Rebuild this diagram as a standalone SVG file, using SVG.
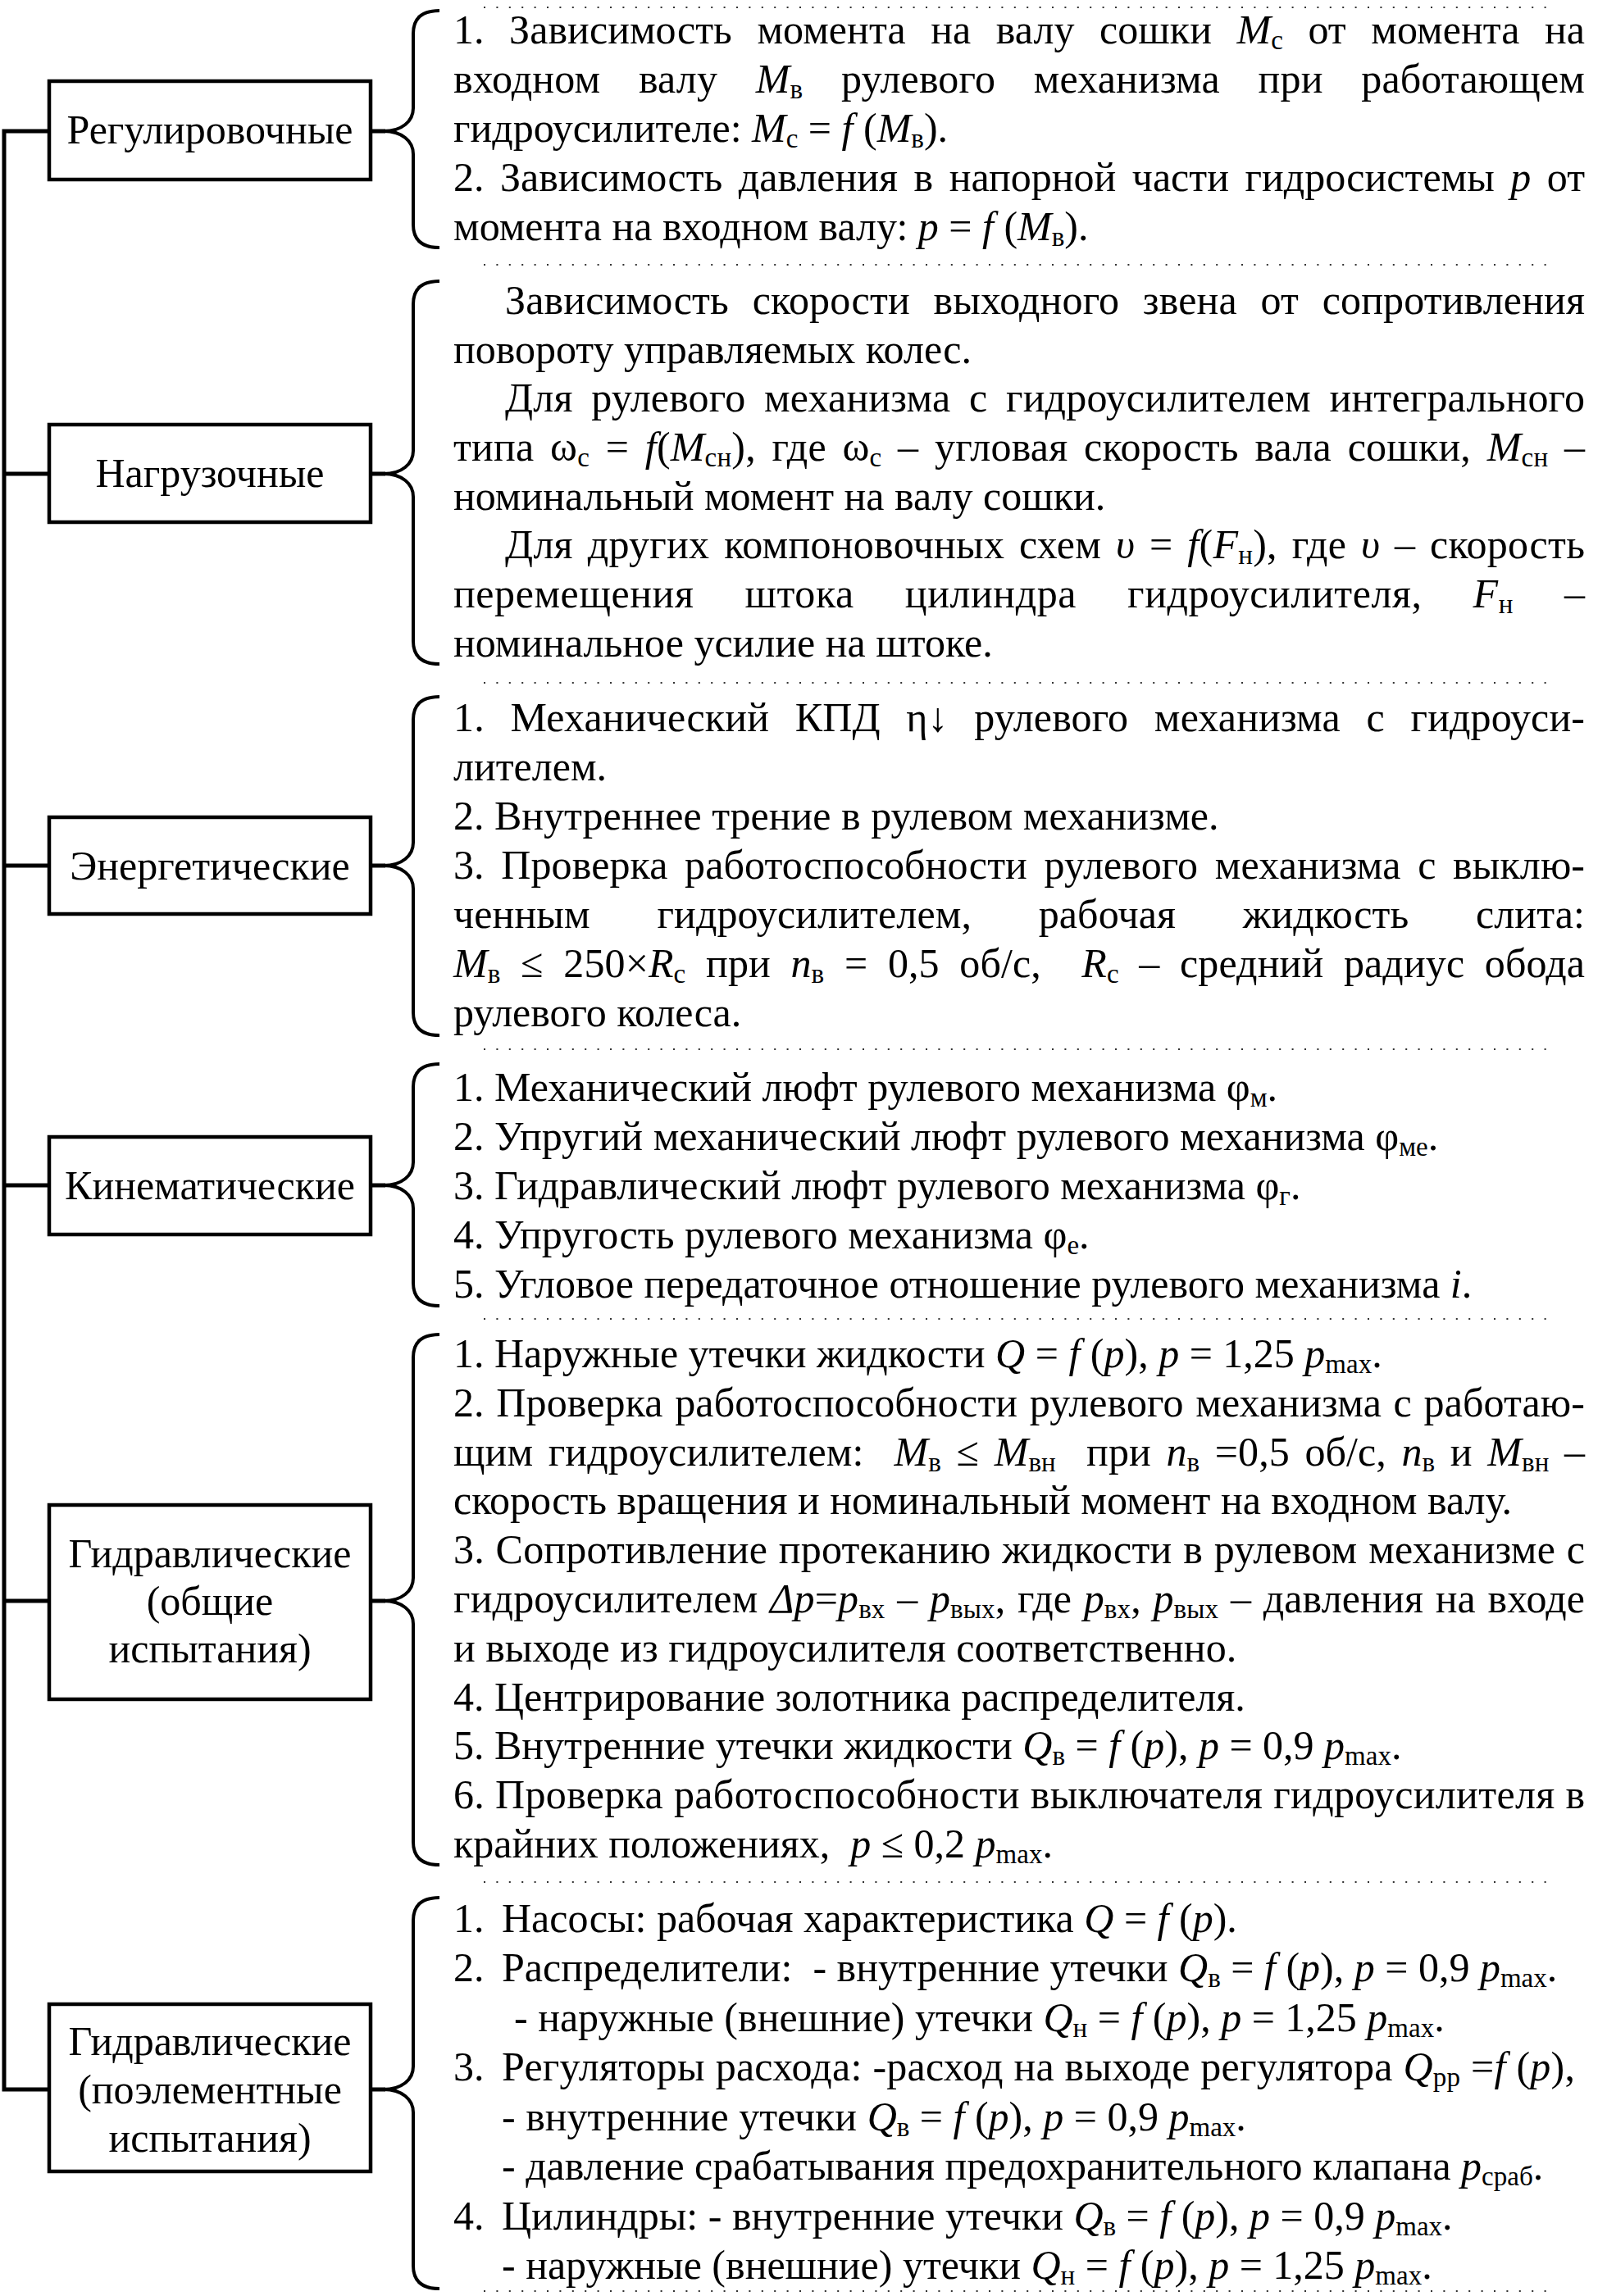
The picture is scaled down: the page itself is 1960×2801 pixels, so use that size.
<svg xmlns="http://www.w3.org/2000/svg" width="1960" height="2801" viewBox="0 0 1960 2801">
<style>
.t{font-family:"Liberation Serif","Times New Roman",serif;font-size:50px;fill:#000}
.lbl{text-anchor:middle}
.i{font-style:italic}
.s{font-size:33px;baseline-shift:-7px}
.box{fill:#fff;stroke:#000;stroke-width:4.5}
.ln{fill:none;stroke:#000;stroke-width:5}
.br{fill:none;stroke:#000;stroke-width:4}
.dot{fill:none;stroke:#333;stroke-width:2;stroke-dasharray:2 13.4}
</style>
<rect width="1960" height="2801" fill="#fff"/>
<g id="connectors">
<path class="ln" d="M60 160H5V2549H60M5 578H60M5 1056H60M5 1446H60M5 1953H60"/>
<path class="ln" d="M452 160H470M452 578H470M452 1056H470M452 1446H470M452 1953H470M452 2549H470"/>
<path class="br" d="M536 13C516 13 504 21 504 41L504 132C504 148 490 160 468 160C490 160 504 172 504 188L504 274C504 294 516 302 536 302"/>
<path class="br" d="M536 343C516 343 504 351 504 371L504 550C504 566 490 578 468 578C490 578 504 590 504 606L504 782C504 802 516 810 536 810"/>
<path class="br" d="M536 850C516 850 504 858 504 878L504 1028C504 1044 490 1056 468 1056C490 1056 504 1068 504 1084L504 1235C504 1255 516 1263 536 1263"/>
<path class="br" d="M536 1298C516 1298 504 1306 504 1326L504 1418C504 1434 490 1446 468 1446C490 1446 504 1458 504 1474L504 1565C504 1585 516 1593 536 1593"/>
<path class="br" d="M536 1628C516 1628 504 1636 504 1656L504 1925C504 1941 490 1953 468 1953C490 1953 504 1965 504 1981L504 2247C504 2267 516 2275 536 2275"/>
<path class="br" d="M536 2315C516 2315 504 2323 504 2343L504 2521C504 2537 490 2549 468 2549C490 2549 504 2561 504 2577L504 2764C504 2784 516 2792 536 2792"/>
</g>
<g id="separators">
<path class="dot" d="M590 9H1886M590 323H1886M590 833H1886M590 1280H1886M590 1609H1886M590 2296H1886M590 2795H1886"/>
</g>
<g id="node-regulating">
<rect class="box" x="60" y="99" width="392" height="120"/>
<text class="t lbl" x="256" y="175">Регулировочные</text>
<text class="t" x="553" y="53" textLength="1380" lengthAdjust="spacing" style="word-spacing:18px" xml:space="preserve">1. Зависимость момента на валу сошки <tspan class="i">M</tspan><tspan class="s">с</tspan> от момента на</text>
<text class="t" x="553" y="113" textLength="1380" lengthAdjust="spacing" style="word-spacing:34px" xml:space="preserve">входном валу <tspan class="i">M</tspan><tspan class="s">в</tspan> рулевого механизма при работающем</text>
<text class="t" x="553" y="173" xml:space="preserve">гидроусилителе: <tspan class="i">M</tspan><tspan class="s">с</tspan> = <tspan class="i">f</tspan> (<tspan class="i">M</tspan><tspan class="s">в</tspan>).</text>
<text class="t" x="553" y="233" textLength="1380" lengthAdjust="spacing" style="word-spacing:7px" xml:space="preserve">2. Зависимость давления в напорной части гидросистемы <tspan class="i">p</tspan> от</text>
<text class="t" x="553" y="293" xml:space="preserve">момента на входном валу: <tspan class="i">p</tspan> = <tspan class="i">f</tspan> (<tspan class="i">M</tspan><tspan class="s">в</tspan>).</text>
</g>
<g id="node-load">
<rect class="box" x="60" y="518" width="392" height="119"/>
<text class="t lbl" x="256" y="594">Нагрузочные</text>
<text class="t" x="616" y="383" textLength="1317" lengthAdjust="spacing" style="word-spacing:16px" xml:space="preserve">Зависимость скорости выходного звена от сопротивления</text>
<text class="t" x="553" y="443" xml:space="preserve">повороту управляемых колес.</text>
<text class="t" x="616" y="502" textLength="1317" lengthAdjust="spacing" style="word-spacing:10px" xml:space="preserve">Для рулевого механизма с гидроусилителем интегрального</text>
<text class="t" x="553" y="562" textLength="1380" lengthAdjust="spacing" style="word-spacing:7px" xml:space="preserve">типа ω<tspan class="s">с</tspan> = <tspan class="i">f</tspan>(<tspan class="i">M</tspan><tspan class="s">сн</tspan>), где ω<tspan class="s">с</tspan> – угловая скорость вала сошки, <tspan class="i">M</tspan><tspan class="s">сн</tspan> –</text>
<text class="t" x="553" y="622" xml:space="preserve">номинальный момент на валу сошки.</text>
<text class="t" x="616" y="681" textLength="1317" lengthAdjust="spacing" style="word-spacing:5px" xml:space="preserve">Для других компоновочных схем <tspan class="i">υ</tspan> = <tspan class="i">f</tspan>(<tspan class="i">F</tspan><tspan class="s">н</tspan>), где <tspan class="i">υ</tspan> – скорость</text>
<text class="t" x="553" y="741" textLength="1380" lengthAdjust="spacing" style="word-spacing:49px" xml:space="preserve">перемещения штока цилиндра гидроусилителя, <tspan class="i">F</tspan><tspan class="s">н</tspan> –</text>
<text class="t" x="553" y="801" xml:space="preserve">номинальное усилие на штоке.</text>
</g>
<g id="node-energy">
<rect class="box" x="60" y="997" width="392" height="118"/>
<text class="t lbl" x="256" y="1073">Энергетические</text>
<text class="t" x="553" y="892" textLength="1380" lengthAdjust="spacing" style="word-spacing:19px" xml:space="preserve">1. Механический КПД η↓ рулевого механизма с гидроуси-</text>
<text class="t" x="553" y="952" xml:space="preserve">лителем.</text>
<text class="t" x="553" y="1012" xml:space="preserve">2. Внутреннее трение в рулевом механизме.</text>
<text class="t" x="553" y="1072" textLength="1380" lengthAdjust="spacing" style="word-spacing:8px" xml:space="preserve">3. Проверка работоспособности рулевого механизма с выклю-</text>
<text class="t" x="553" y="1132" textLength="1380" lengthAdjust="spacing" style="word-spacing:69px" xml:space="preserve">ченным гидроусилителем, рабочая жидкость слита:</text>
<text class="t" x="553" y="1192" textLength="1380" lengthAdjust="spacing" style="word-spacing:12px" xml:space="preserve"><tspan class="i">M</tspan><tspan class="s">в</tspan> ≤ 250×<tspan class="i">R</tspan><tspan class="s">с</tspan> при <tspan class="i">n</tspan><tspan class="s">в</tspan> = 0,5 об/с,  <tspan class="i">R</tspan><tspan class="s">с</tspan> – средний радиус обода</text>
<text class="t" x="553" y="1252" xml:space="preserve">рулевого колеса.</text>
</g>
<g id="node-kinematic">
<rect class="box" x="60" y="1387" width="392" height="119"/>
<text class="t lbl" x="256" y="1463">Кинематические</text>
<text class="t" x="553" y="1343" xml:space="preserve">1. Механический люфт рулевого механизма φ<tspan class="s">м</tspan>.</text>
<text class="t" x="553" y="1403" xml:space="preserve">2. Упругий механический люфт рулевого механизма φ<tspan class="s">ме</tspan>.</text>
<text class="t" x="553" y="1463" xml:space="preserve">3. Гидравлический люфт рулевого механизма φ<tspan class="s">г</tspan>.</text>
<text class="t" x="553" y="1523" xml:space="preserve">4. Упругость рулевого механизма φ<tspan class="s">е</tspan>.</text>
<text class="t" x="553" y="1583" xml:space="preserve">5. Угловое передаточное отношение рулевого механизма <tspan class="i">i</tspan>.</text>
</g>
<g id="node-hydraulic-general">
<rect class="box" x="60" y="1836" width="392" height="237"/>
<text class="t lbl" x="256" y="1912">Гидравлические</text>
<text class="t lbl" x="256" y="1970">(общие</text>
<text class="t lbl" x="256" y="2028">испытания)</text>
<text class="t" x="553" y="1668" xml:space="preserve">1. Наружные утечки жидкости <tspan class="i">Q</tspan> = <tspan class="i">f</tspan> (<tspan class="i">p</tspan>), <tspan class="i">p</tspan> = 1,25 <tspan class="i">p</tspan><tspan class="s">max</tspan>.</text>
<text class="t" x="553" y="1728" textLength="1380" lengthAdjust="spacing" style="word-spacing:2px" xml:space="preserve">2. Проверка работоспособности рулевого механизма с работаю-</text>
<text class="t" x="553" y="1788" textLength="1380" lengthAdjust="spacing" style="word-spacing:6px" xml:space="preserve">щим гидроусилителем:  <tspan class="i">M</tspan><tspan class="s">в</tspan> ≤ <tspan class="i">M</tspan><tspan class="s">вн</tspan>  при <tspan class="i">n</tspan><tspan class="s">в</tspan> =0,5 об/с, <tspan class="i">n</tspan><tspan class="s">в</tspan> и <tspan class="i">M</tspan><tspan class="s">вн</tspan> –</text>
<text class="t" x="553" y="1847" xml:space="preserve">скорость вращения и номинальный момент на входном валу.</text>
<text class="t" x="553" y="1907" textLength="1380" lengthAdjust="spacing" style="word-spacing:1px" xml:space="preserve">3. Сопротивление протеканию жидкости в рулевом механизме с</text>
<text class="t" x="553" y="1967" textLength="1380" lengthAdjust="spacing" style="word-spacing:2px" xml:space="preserve">гидроусилителем <tspan class="i">Δp</tspan>=<tspan class="i">p</tspan><tspan class="s">вх</tspan> – <tspan class="i">p</tspan><tspan class="s">вых</tspan>, где <tspan class="i">p</tspan><tspan class="s">вх</tspan>, <tspan class="i">p</tspan><tspan class="s">вых</tspan> – давления на входе</text>
<text class="t" x="553" y="2027" xml:space="preserve">и выходе из гидроусилителя соответственно.</text>
<text class="t" x="553" y="2087" xml:space="preserve">4. Центрирование золотника распределителя.</text>
<text class="t" x="553" y="2146" xml:space="preserve">5. Внутренние утечки жидкости <tspan class="i">Q</tspan><tspan class="s">в</tspan> = <tspan class="i">f</tspan> (<tspan class="i">p</tspan>), <tspan class="i">p</tspan> = 0,9 <tspan class="i">p</tspan><tspan class="s">max</tspan>.</text>
<text class="t" x="553" y="2206" textLength="1380" lengthAdjust="spacing" xml:space="preserve">6. Проверка работоспособности выключателя гидроусилителя в</text>
<text class="t" x="553" y="2266" xml:space="preserve">крайних положениях,  <tspan class="i">p</tspan> ≤ 0,2 <tspan class="i">p</tspan><tspan class="s">max</tspan>.</text>
</g>
<g id="node-hydraulic-elements">
<rect class="box" x="60" y="2445" width="392" height="204"/>
<text class="t lbl" x="256" y="2507">Гидравлические</text>
<text class="t lbl" x="256" y="2566">(поэлементные</text>
<text class="t lbl" x="256" y="2625">испытания)</text>
<text class="t" y="2357" xml:space="preserve"><tspan x="553">1.</tspan><tspan x="612">Насосы: рабочая характеристика </tspan><tspan class="i">Q</tspan> = <tspan class="i">f</tspan> (<tspan class="i">p</tspan>).</text>
<text class="t" y="2417" xml:space="preserve"><tspan x="553">2.</tspan><tspan x="612">Распределители:  - внутренние утечки </tspan><tspan class="i">Q</tspan><tspan class="s">в</tspan> = <tspan class="i">f</tspan> (<tspan class="i">p</tspan>), <tspan class="i">p</tspan> = 0,9 <tspan class="i">p</tspan><tspan class="s">max</tspan>.</text>
<text class="t" x="627" y="2478" xml:space="preserve">- наружные (внешние) утечки <tspan class="i">Q</tspan><tspan class="s">н</tspan> = <tspan class="i">f</tspan> (<tspan class="i">p</tspan>), <tspan class="i">p</tspan> = 1,25 <tspan class="i">p</tspan><tspan class="s">max</tspan>.</text>
<text class="t" x="553" y="2538">3.</text>
<text class="t" x="612" y="2538" textLength="1309" lengthAdjust="spacing" xml:space="preserve">Регуляторы расхода: -расход на выходе регулятора <tspan class="i">Q</tspan><tspan class="s">рр</tspan> =<tspan class="i">f</tspan> (<tspan class="i">p</tspan>),</text>
<text class="t" x="612" y="2599" xml:space="preserve">- внутренние утечки <tspan class="i">Q</tspan><tspan class="s">в</tspan> = <tspan class="i">f</tspan> (<tspan class="i">p</tspan>), <tspan class="i">p</tspan> = 0,9 <tspan class="i">p</tspan><tspan class="s">max</tspan>.</text>
<text class="t" x="612" y="2659" xml:space="preserve">- давление срабатывания предохранительного клапана <tspan class="i">p</tspan><tspan class="s">сраб</tspan>.</text>
<text class="t" y="2720" xml:space="preserve"><tspan x="553">4.</tspan><tspan x="612">Цилиндры: - внутренние утечки </tspan><tspan class="i">Q</tspan><tspan class="s">в</tspan> = <tspan class="i">f</tspan> (<tspan class="i">p</tspan>), <tspan class="i">p</tspan> = 0,9 <tspan class="i">p</tspan><tspan class="s">max</tspan>.</text>
<text class="t" x="612" y="2780" xml:space="preserve">- наружные (внешние) утечки <tspan class="i">Q</tspan><tspan class="s">н</tspan> = <tspan class="i">f</tspan> (<tspan class="i">p</tspan>), <tspan class="i">p</tspan> = 1,25 <tspan class="i">p</tspan><tspan class="s">max</tspan>.</text>
</g>
</svg>
